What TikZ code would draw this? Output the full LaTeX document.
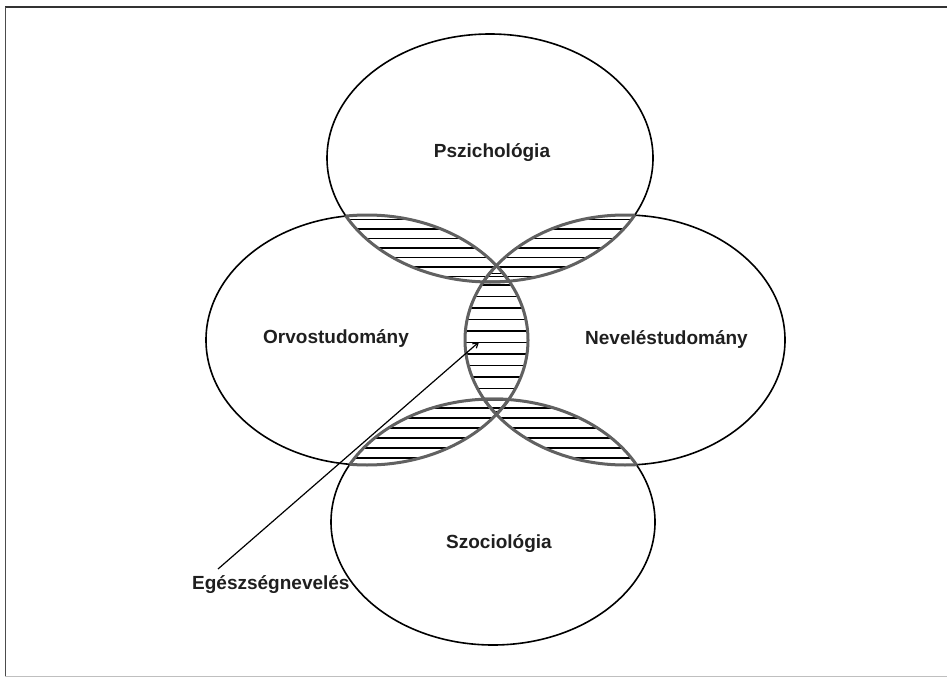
\documentclass[tikz,border=0pt]{standalone}
\usepackage{fontspec}
\setmainfont{Liberation Sans}
\usetikzlibrary{arrows.meta}
\begin{document}
\begin{tikzpicture}[x=1pt,y=-1pt,
  ell/.style={draw=black,line width=1.6pt},
  lensline/.style={draw=black!62,line width=3pt},
  hatch/.style={draw=black,line width=1.3pt},
  lbl/.style={font=\fontsize{19}{22}\selectfont\bfseries,text=black!88,inner sep=0pt}]
\useasboundingbox (0,0) rectangle (947,679);
% frame
\draw[black!80,line width=1.6pt] (5,7) -- (947,7);
\draw[black!70,line width=1pt] (5,7) -- (5,676);
\draw[black!25,line width=1pt] (5,676) -- (947,676);
% ellipse definitions
\def\Etop{(490,158) ellipse [x radius=163,y radius=124]}
\def\Eleft{(367,340) ellipse [x radius=161,y radius=125]}
\def\Eright{(625,340) ellipse [x radius=160,y radius=125]}
\def\Ebot{(493,522) ellipse [x radius=162,y radius=123]}
% hatching in lenses (start / second / end)
\foreach \A/\B/\ya/\yb in {\Etop/\Eleft/210/219.5,\Etop/\Eright/210/219.5,\Eleft/\Eright/262/273.5,\Ebot/\Eleft/398/408,\Ebot/\Eright/398/408}{
  \begin{scope}
    \clip \A; \clip \B;
    \foreach \y in {\ya,\yb,...,480} \draw[hatch] (150,\y) -- (850,\y);
  \end{scope}
}
% ellipses
\draw[ell] \Etop;
\draw[ell] \Eleft;
\draw[ell] \Eright;
\draw[ell] \Ebot;
% lens outlines
\foreach \A/\B in {\Etop/\Eleft,\Etop/\Eright,\Eleft/\Eright,\Ebot/\Eleft,\Ebot/\Eright}{
  \begin{scope}\clip \A; \draw[lensline] \B; \end{scope}
  \begin{scope}\clip \B; \draw[lensline] \A; \end{scope}
}
% labels
\node[lbl,anchor=base] (psz) at (492,158) {Pszichológia};
\node[lbl,anchor=base west] (orv) at (263,343) {Orvostudomány};
\node[lbl,anchor=base east] (nev) at (748,344) {Neveléstudomány};
\node[lbl,anchor=base west] (szo) at (446,548) {Szociológia};
\node[lbl,anchor=base west] (ege) at (192,589) {Egészségnevelés};
\coordinate (tip) at (479,342);
\coordinate (tail) at (218,569);
\draw[black,line width=1.2pt,-{Straight Barb[length=5pt,width=6pt]}] (tail) -- (tip);
\end{tikzpicture}
\end{document}
